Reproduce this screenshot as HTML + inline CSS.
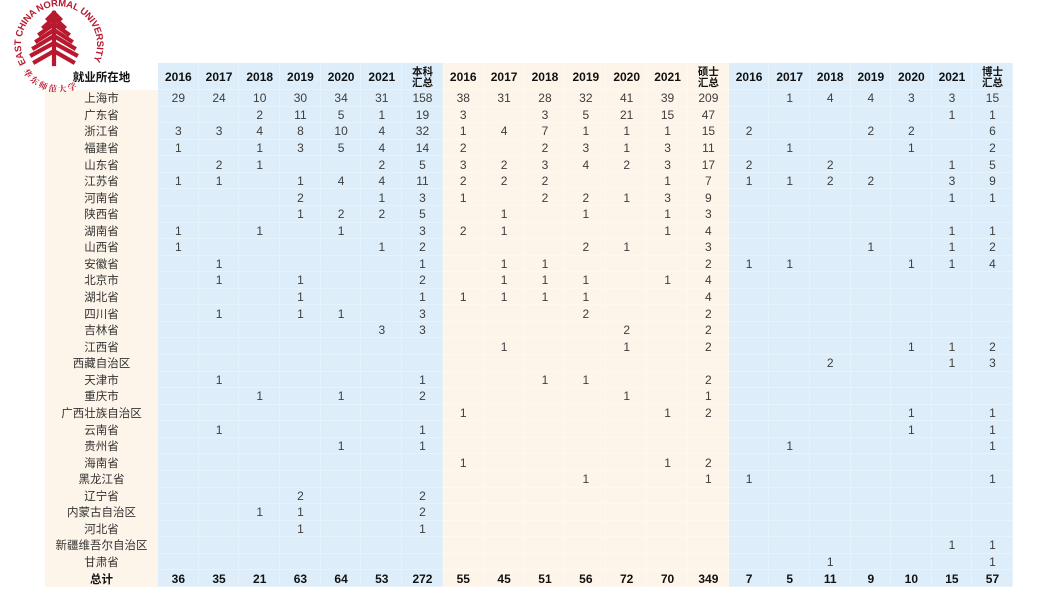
<!DOCTYPE html>
<html><head><meta charset="utf-8">
<style>
html,body{margin:0;padding:0;background:#fff;}
body{width:1061px;height:597px;position:relative;overflow:hidden;font-family:"Liberation Sans","Noto Sans CJK SC",sans-serif;}
.bg{position:absolute;}
.g{position:absolute;left:45px;top:63px;display:grid;
grid-template-columns:113px repeat(7,40.7px) repeat(7,40.86px) repeat(7,40.57px);
grid-template-rows:27px repeat(30,16.567px);}
.g>i{font-style:normal;display:flex;align-items:center;justify-content:center;font-size:12px;color:#3d3d3d;box-sizing:border-box;box-shadow:inset -1px -1px 0 rgba(255,255,255,.3);white-space:nowrap;}
.g>i.n{font-size:11.5px;color:#333;box-shadow:none;font-family:"Noto Sans CJK SC","WenQuanYi Zen Hei",sans-serif;}
.g>i.h{font-weight:bold;color:#111;font-size:12px;}
.g>i.hn{font-weight:bold;color:#111;font-size:11.5px;box-shadow:none;font-family:"Noto Sans CJK SC",sans-serif;position:relative;z-index:3;}
.g>i.hs{font-weight:bold;color:#111;font-size:10.5px;line-height:11px;text-align:center;font-family:"Noto Sans CJK SC",sans-serif;}
.g>i.t{font-weight:bold;color:#111;}
.logo{position:absolute;left:0;top:0;z-index:2;}
</style></head><body>
<div class="bg" style="left:45px;top:90px;width:113px;height:497px;background:#fdf5ea"></div>
<div class="bg" style="left:158px;top:63px;width:285px;height:524px;background:#ddeefa"></div>
<div class="bg" style="left:443px;top:63px;width:286px;height:524px;background:#fdf5ea"></div>
<div class="bg" style="left:729px;top:63px;width:284px;height:524px;background:#ddeefa"></div>

<svg class="logo" width="125" height="92" viewBox="0 0 125 92">
<defs>
<path id="arcTop" d="M 26.2 63.5 A 38 38 0 1 1 91.8 63.5"/>
<path id="arcBot" d="M 22 70 A 42 42 0 0 0 96 70"/>
</defs>
<text fill="#b8192f" font-family="Liberation Sans,sans-serif" font-size="9.5" font-weight="bold"><textPath href="#arcTop" textLength="156" lengthAdjust="spacing">EAST CHINA NORMAL UNIVERSITY</textPath></text>
<text fill="#b8192f" font-family="Noto Serif CJK SC,serif" font-size="8.5" font-weight="bold"><textPath href="#arcBot" startOffset="2">华 东 师 范 大 学</textPath></text>
<g stroke="#b8192f" stroke-width="4.2" fill="none" stroke-linecap="square">
<line x1="54" y1="13" x2="54" y2="64"/>
<polyline points="48,19 54,13 60,19"/>
<polyline points="44,27 54,18 64,27"/>
<polyline points="40,34 54,24 68,34"/>
<polyline points="37,41 54,30 71,41"/>
<polyline points="34,48 54,36 74,48"/>
<polyline points="32,55 54,43 76,55"/>
<polyline points="35,62 54,51 73,62"/>
</g>
</svg>

<div class="g">
<i class="hn">就业所在地</i><i class="h">2016</i><i class="h">2017</i><i class="h">2018</i><i class="h">2019</i><i class="h">2020</i><i class="h">2021</i><i class="hs">本科<br>汇总</i><i class="h">2016</i><i class="h">2017</i><i class="h">2018</i><i class="h">2019</i><i class="h">2020</i><i class="h">2021</i><i class="hs">硕士<br>汇总</i><i class="h">2016</i><i class="h">2017</i><i class="h">2018</i><i class="h">2019</i><i class="h">2020</i><i class="h">2021</i><i class="hs">博士<br>汇总</i>

<i class="n">上海市</i><i>29</i><i>24</i><i>10</i><i>30</i><i>34</i><i>31</i><i>158</i><i>38</i><i>31</i><i>28</i><i>32</i><i>41</i><i>39</i><i>209</i><i></i><i>1</i><i>4</i><i>4</i><i>3</i><i>3</i><i>15</i>
<i class="n">广东省</i><i></i><i></i><i>2</i><i>11</i><i>5</i><i>1</i><i>19</i><i>3</i><i></i><i>3</i><i>5</i><i>21</i><i>15</i><i>47</i><i></i><i></i><i></i><i></i><i></i><i>1</i><i>1</i>
<i class="n">浙江省</i><i>3</i><i>3</i><i>4</i><i>8</i><i>10</i><i>4</i><i>32</i><i>1</i><i>4</i><i>7</i><i>1</i><i>1</i><i>1</i><i>15</i><i>2</i><i></i><i></i><i>2</i><i>2</i><i></i><i>6</i>
<i class="n">福建省</i><i>1</i><i></i><i>1</i><i>3</i><i>5</i><i>4</i><i>14</i><i>2</i><i></i><i>2</i><i>3</i><i>1</i><i>3</i><i>11</i><i></i><i>1</i><i></i><i></i><i>1</i><i></i><i>2</i>
<i class="n">山东省</i><i></i><i>2</i><i>1</i><i></i><i></i><i>2</i><i>5</i><i>3</i><i>2</i><i>3</i><i>4</i><i>2</i><i>3</i><i>17</i><i>2</i><i></i><i>2</i><i></i><i></i><i>1</i><i>5</i>
<i class="n">江苏省</i><i>1</i><i>1</i><i></i><i>1</i><i>4</i><i>4</i><i>11</i><i>2</i><i>2</i><i>2</i><i></i><i></i><i>1</i><i>7</i><i>1</i><i>1</i><i>2</i><i>2</i><i></i><i>3</i><i>9</i>
<i class="n">河南省</i><i></i><i></i><i></i><i>2</i><i></i><i>1</i><i>3</i><i>1</i><i></i><i>2</i><i>2</i><i>1</i><i>3</i><i>9</i><i></i><i></i><i></i><i></i><i></i><i>1</i><i>1</i>
<i class="n">陕西省</i><i></i><i></i><i></i><i>1</i><i>2</i><i>2</i><i>5</i><i></i><i>1</i><i></i><i>1</i><i></i><i>1</i><i>3</i><i></i><i></i><i></i><i></i><i></i><i></i><i></i>
<i class="n">湖南省</i><i>1</i><i></i><i>1</i><i></i><i>1</i><i></i><i>3</i><i>2</i><i>1</i><i></i><i></i><i></i><i>1</i><i>4</i><i></i><i></i><i></i><i></i><i></i><i>1</i><i>1</i>
<i class="n">山西省</i><i>1</i><i></i><i></i><i></i><i></i><i>1</i><i>2</i><i></i><i></i><i></i><i>2</i><i>1</i><i></i><i>3</i><i></i><i></i><i></i><i>1</i><i></i><i>1</i><i>2</i>
<i class="n">安徽省</i><i></i><i>1</i><i></i><i></i><i></i><i></i><i>1</i><i></i><i>1</i><i>1</i><i></i><i></i><i></i><i>2</i><i>1</i><i>1</i><i></i><i></i><i>1</i><i>1</i><i>4</i>
<i class="n">北京市</i><i></i><i>1</i><i></i><i>1</i><i></i><i></i><i>2</i><i></i><i>1</i><i>1</i><i>1</i><i></i><i>1</i><i>4</i><i></i><i></i><i></i><i></i><i></i><i></i><i></i>
<i class="n">湖北省</i><i></i><i></i><i></i><i>1</i><i></i><i></i><i>1</i><i>1</i><i>1</i><i>1</i><i>1</i><i></i><i></i><i>4</i><i></i><i></i><i></i><i></i><i></i><i></i><i></i>
<i class="n">四川省</i><i></i><i>1</i><i></i><i>1</i><i>1</i><i></i><i>3</i><i></i><i></i><i></i><i>2</i><i></i><i></i><i>2</i><i></i><i></i><i></i><i></i><i></i><i></i><i></i>
<i class="n">吉林省</i><i></i><i></i><i></i><i></i><i></i><i>3</i><i>3</i><i></i><i></i><i></i><i></i><i>2</i><i></i><i>2</i><i></i><i></i><i></i><i></i><i></i><i></i><i></i>
<i class="n">江西省</i><i></i><i></i><i></i><i></i><i></i><i></i><i></i><i></i><i>1</i><i></i><i></i><i>1</i><i></i><i>2</i><i></i><i></i><i></i><i></i><i>1</i><i>1</i><i>2</i>
<i class="n">西藏自治区</i><i></i><i></i><i></i><i></i><i></i><i></i><i></i><i></i><i></i><i></i><i></i><i></i><i></i><i></i><i></i><i></i><i>2</i><i></i><i></i><i>1</i><i>3</i>
<i class="n">天津市</i><i></i><i>1</i><i></i><i></i><i></i><i></i><i>1</i><i></i><i></i><i>1</i><i>1</i><i></i><i></i><i>2</i><i></i><i></i><i></i><i></i><i></i><i></i><i></i>
<i class="n">重庆市</i><i></i><i></i><i>1</i><i></i><i>1</i><i></i><i>2</i><i></i><i></i><i></i><i></i><i>1</i><i></i><i>1</i><i></i><i></i><i></i><i></i><i></i><i></i><i></i>
<i class="n">广西壮族自治区</i><i></i><i></i><i></i><i></i><i></i><i></i><i></i><i>1</i><i></i><i></i><i></i><i></i><i>1</i><i>2</i><i></i><i></i><i></i><i></i><i>1</i><i></i><i>1</i>
<i class="n">云南省</i><i></i><i>1</i><i></i><i></i><i></i><i></i><i>1</i><i></i><i></i><i></i><i></i><i></i><i></i><i></i><i></i><i></i><i></i><i></i><i>1</i><i></i><i>1</i>
<i class="n">贵州省</i><i></i><i></i><i></i><i></i><i>1</i><i></i><i>1</i><i></i><i></i><i></i><i></i><i></i><i></i><i></i><i></i><i>1</i><i></i><i></i><i></i><i></i><i>1</i>
<i class="n">海南省</i><i></i><i></i><i></i><i></i><i></i><i></i><i></i><i>1</i><i></i><i></i><i></i><i></i><i>1</i><i>2</i><i></i><i></i><i></i><i></i><i></i><i></i><i></i>
<i class="n">黑龙江省</i><i></i><i></i><i></i><i></i><i></i><i></i><i></i><i></i><i></i><i></i><i>1</i><i></i><i></i><i>1</i><i>1</i><i></i><i></i><i></i><i></i><i></i><i>1</i>
<i class="n">辽宁省</i><i></i><i></i><i></i><i>2</i><i></i><i></i><i>2</i><i></i><i></i><i></i><i></i><i></i><i></i><i></i><i></i><i></i><i></i><i></i><i></i><i></i><i></i>
<i class="n">内蒙古自治区</i><i></i><i></i><i>1</i><i>1</i><i></i><i></i><i>2</i><i></i><i></i><i></i><i></i><i></i><i></i><i></i><i></i><i></i><i></i><i></i><i></i><i></i><i></i>
<i class="n">河北省</i><i></i><i></i><i></i><i>1</i><i></i><i></i><i>1</i><i></i><i></i><i></i><i></i><i></i><i></i><i></i><i></i><i></i><i></i><i></i><i></i><i></i><i></i>
<i class="n">新疆维吾尔自治区</i><i></i><i></i><i></i><i></i><i></i><i></i><i></i><i></i><i></i><i></i><i></i><i></i><i></i><i></i><i></i><i></i><i></i><i></i><i></i><i>1</i><i>1</i>
<i class="n">甘肃省</i><i></i><i></i><i></i><i></i><i></i><i></i><i></i><i></i><i></i><i></i><i></i><i></i><i></i><i></i><i></i><i></i><i>1</i><i></i><i></i><i></i><i>1</i>
<i class="n t" style="font-weight:bold;color:#111">总计</i><i class="t">36</i><i class="t">35</i><i class="t">21</i><i class="t">63</i><i class="t">64</i><i class="t">53</i><i class="t">272</i><i class="t">55</i><i class="t">45</i><i class="t">51</i><i class="t">56</i><i class="t">72</i><i class="t">70</i><i class="t">349</i><i class="t">7</i><i class="t">5</i><i class="t">11</i><i class="t">9</i><i class="t">10</i><i class="t">15</i><i class="t">57</i>
</div>
</body></html>
